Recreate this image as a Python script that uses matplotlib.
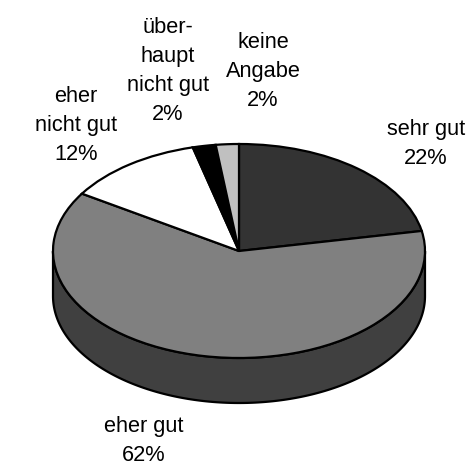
import numpy as np
import matplotlib
matplotlib.use("Agg")
import matplotlib.pyplot as plt

categories = ["sehr gut", "eher gut", "eher\nnicht gut", "über-\nhaupt\nnicht gut", "keine\nAngabe"]
values = [22, 62, 12, 2, 2]
colors = ["#333333", "#808080", "#ffffff", "#000000", "#c0c0c0"]
side_color = "#404040"

W, H = 468, 466
cx, cy, rx, ry, depth = 239, 251, 186, 107, 45
label_pos = [(426, 143.5), (144, 441), (76, 125), (168, 71), (263, 71)]

fig = plt.figure(figsize=(W / 100, H / 100), dpi=100)
ax = fig.add_axes([(cx - rx) / W, 1 - (cy + ry) / H, 2 * rx / W, 2 * ry / H])

t = np.linspace(np.pi, 2 * np.pi, 200)
d = depth / ry
sx = np.concatenate([np.cos(t), np.cos(t[::-1])])
sy = np.concatenate([np.sin(t) - d, np.sin(t[::-1])])
ax.fill(sx, sy, facecolor=side_color, edgecolor="black", linewidth=1.6, clip_on=False, zorder=1)

wedges, _ = ax.pie(values, colors=colors, startangle=90, counterclock=False, radius=1,
                   wedgeprops=dict(edgecolor="black", linewidth=1.6, clip_on=False, zorder=2))
ax.set_aspect("auto")
ax.set_xlim(-1, 1)
ax.set_ylim(-1, 1)
ax.axis("off")

for name, val, (x, y) in zip(categories, values, label_pos):
    fig.text(x / W, 1 - y / H, f"{name}\n{val}%", ha="center", va="center", ma="center",
             family="Liberation Sans", fontsize=15.7, color="black", linespacing=1.5)

fig.savefig("out.png", dpi=100, facecolor="white")
